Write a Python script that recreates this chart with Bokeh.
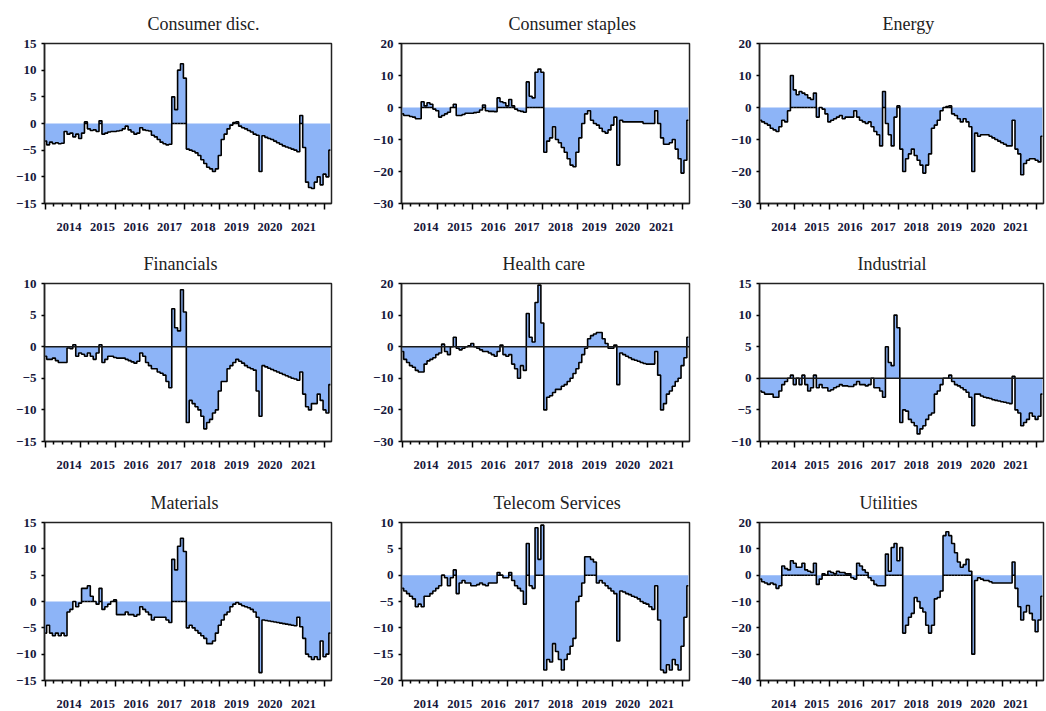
import numpy as np
from bokeh.plotting import figure
from bokeh.layouts import column, row
from bokeh.models import (FixedTicker, LinearAxis, Range1d, Span,
                          CustomJSTickFormatter, ColumnDataSource)
from bokeh.embed import file_html
from bokeh.resources import INLINE

# ---------------- data (monthly, Jan 2014 .. Mar 2022) ----------------
START_YEAR = 2014
YEAR_LABELS = [2014, 2015, 2016, 2017, 2018, 2019, 2020, 2021]

TITLES = ["Consumer disc.", "Consumer staples", "Energy",
          "Financials", "Health care", "Industrial",
          "Materials", "Telecom Services", "Utilities"]

CONSUMER_DISC = [
    -3.3, -4.0, -3.5, -3.8, -3.6, -3.8, -3.7, -1.5, -2.0, -1.8,
    -2.5, -2.0, -2.8, -1.8, 0.3, -1.0, -1.3, -1.2, -1.5, 0.5,
    -2.0, -1.8, -1.6, -1.5, -1.5, -1.4, -1.3, -1.0, -0.5, -1.2,
    -1.6, -2.0, -1.8, -0.8, -1.2, -1.3, -1.4, -2.2, -2.5, -3.0,
    -3.5, -3.8, -4.0, -3.9, 5.0, 2.6, 10.0, 11.2, 8.5, -4.8,
    -5.0, -5.2, -5.5, -6.0, -6.8, -7.5, -8.2, -8.5, -9.0, -8.5,
    -6.0, -3.0, -2.0, -1.0, -0.3, 0.2, 0.3, -0.5, -0.8, -1.0,
    -1.3, -1.6, -2.0, -2.2, -9.0, -2.3, -2.6, -2.8, -3.0, -3.3,
    -3.6, -3.9, -4.2, -4.4, -4.6, -4.8, -5.0, -5.3, 1.5, -4.5,
    -11.0, -12.0, -12.2, -11.0, -10.0, -11.5, -9.5, -10.0, -5.0]

CONSUMER_STAPLES = [
    -2.0, -2.5, -2.5, -2.8, -3.0, -3.5, -3.5, 1.8, 0.5, 1.5,
    1.0, -0.5, -1.0, -3.0, -2.5, -2.0, -1.5, 0.0, 1.0, -2.5,
    -2.5, -2.2, -1.8, -1.8, -1.8, -1.6, -1.5, -0.8, 0.8, -1.0,
    -1.2, -1.2, -1.3, 3.0, 1.8, 1.5, 0.5, 2.5, 0.5, -0.5,
    -1.0, -1.2, -1.5, 8.0, 3.5, 3.0, 11.0, 12.0, 11.0, -14.0,
    -10.5, -9.5, -6.0, -10.0, -11.0, -12.5, -14.0, -16.0, -18.0, -18.5,
    -14.0, -9.5, -5.0, -2.0, -1.0, -4.0, -5.0, -5.5, -6.5, -7.5,
    -8.0, -7.0, -5.5, -3.0, -18.0, -4.0, -4.5, -4.5, -4.5, -4.5,
    -4.5, -4.5, -4.5, -5.0, -5.0, -5.0, -5.0, -1.0, -5.0, -9.5,
    -11.5, -11.5, -11.0, -10.0, -13.0, -16.0, -20.5, -16.5, -4.0]

ENERGY = [
    -4.0, -4.5, -5.0, -5.5, -6.5, -7.0, -7.5, -6.0, -4.0, -4.5,
    -1.0, 10.0, 5.5, 4.0, 5.0, 4.5, 4.0, 3.0, 2.5, 4.5,
    -3.0, 0.0, -0.5, -2.0, -4.5, -4.0, -3.5, -3.0, -2.5, -3.5,
    -3.0, -3.0, -3.0, -1.0, -3.0, -4.0, -4.5, -5.0, -4.5, -6.0,
    -7.5, -8.5, -12.0, 5.0, -5.0, -8.5, -12.0, -3.0, 0.5, -13.0,
    -20.0, -16.0, -14.5, -13.0, -15.0, -16.5, -18.0, -20.5, -18.0, -14.5,
    -6.5, -5.5, -4.0, -1.0, 0.0, 0.3, 0.5, -2.0, -2.5, -3.5,
    -4.5, -3.5, -4.5, -6.0, -20.0, -8.0, -9.0, -8.5, -8.5, -8.5,
    -9.0, -9.5, -10.0, -10.5, -11.0, -11.5, -12.0, -12.0, -4.0, -13.0,
    -14.5, -21.0, -17.5, -16.5, -16.0, -16.0, -16.5, -17.0, -9.0]

FINANCIALS = [
    -1.5, -2.0, -2.0, -1.8, -2.2, -2.5, -2.5, -2.5, -0.2, -0.3,
    0.3, -1.5, -1.0, -1.2, -1.5, -1.0, -1.5, -2.0, -1.0, 0.3,
    -2.5, -2.0, -1.5, -1.5, -1.7, -1.8, -1.8, -1.8, -2.0, -2.2,
    -2.4, -2.6, -2.3, -1.0, -1.5, -2.5, -3.0, -3.5, -3.5, -4.0,
    -4.2, -4.5, -5.5, -6.5, 6.0, 3.0, 2.5, 9.0, 5.5, -12.0,
    -8.5, -9.0, -9.5, -10.0, -11.0, -13.0, -12.0, -11.5, -10.5, -10.0,
    -7.0, -5.5, -5.5, -3.5, -3.0, -2.5, -2.0, -2.3, -2.6, -3.0,
    -3.3, -3.5, -3.7, -7.0, -11.0, -3.0, -3.2, -3.4, -3.6, -3.8,
    -4.0, -4.2, -4.4, -4.6, -4.8, -5.0, -5.1, -5.3, -4.0, -7.5,
    -9.5, -10.0, -9.0, -9.0, -7.5, -8.5, -10.0, -10.5, -6.0]

HEALTH_CARE = [
    -1.5, -4.0, -5.0, -6.0, -6.5, -7.5, -8.0, -8.0, -5.5, -4.5,
    -4.0, -3.5, -2.5, -2.0, 0.8, -1.5, -2.5, 0.0, 3.0, -0.5,
    -1.0, -0.5, 0.0, 0.3, 1.0, 0.0, -0.5, -1.0, -1.5, -1.5,
    -2.0, -2.5, -3.0, -1.5, 0.5, -2.5, -3.0, -2.5, -5.5, -7.0,
    -10.0, -6.0, -7.5, 10.5, 3.0, 1.5, 14.0, 19.5, 7.5, -20.0,
    -16.0, -15.5, -14.5, -13.5, -13.5, -12.5, -12.0, -11.0, -10.0, -8.5,
    -7.0, -5.0, -2.5, -0.5, 2.5, 3.5, 4.0, 4.5, 4.5, 2.5,
    1.0, -0.5, -0.5, 0.5, -12.0, -2.0, -2.5, -3.0, -3.5, -4.0,
    -4.3, -4.6, -5.0, -5.3, -5.5, -5.5, -5.5, -1.5, -9.0, -20.0,
    -18.0, -15.0, -14.0, -12.5, -11.0, -10.0, -6.0, -3.5, 3.0]

INDUSTRIAL = [
    -2.0, -2.2, -2.5, -2.5, -2.5, -3.0, -3.0, -2.0, -1.0, -0.5,
    0.0, 0.5, -1.0, 0.0, -1.0, 0.5, -1.0, -2.0, -1.5, 0.5,
    -1.5, -1.0, -1.5, -1.5, -2.0, -1.8, -1.5, -1.3, -1.0, -1.2,
    -1.2, -1.3, -1.3, -1.0, -0.5, -1.0, -1.0, -1.2, -1.0, 0.0,
    -1.5, -1.5, -2.0, -3.0, 5.0, 2.5, 2.0, 10.0, 8.0, -7.0,
    -5.0, -5.2, -6.5, -7.0, -7.5, -8.8, -8.0, -7.5, -6.5, -5.8,
    -5.5, -2.5, -2.0, -1.0, 0.0, 0.0, 0.5, -0.5, -1.0, -1.2,
    -1.5, -1.8, -2.2, -3.0, -7.5, -2.5, -2.5, -2.8, -3.0, -3.1,
    -3.2, -3.4, -3.5, -3.6, -3.7, -3.8, -3.9, -4.0, 0.3, -5.0,
    -5.5, -7.5, -7.0, -6.5, -5.5, -6.0, -6.5, -6.0, -2.5]

MATERIALS = [
    -6.0, -4.5, -6.0, -6.5, -6.0, -6.5, -6.0, -6.5, -2.0, -1.5,
    0.0, -1.0, -0.3, 2.5, 2.5, 3.0, 1.0, 0.0, -0.5, 2.5,
    -1.5, -1.0, -0.5, 0.0, 0.3, -2.5, -2.5, -2.5, -2.0, -2.5,
    -2.5, -2.8, -2.5, -1.0, -1.5, -2.0, -2.5, -3.5, -3.0, -3.0,
    -3.0, -3.0, -3.5, -4.0, 8.0, 6.0, 10.5, 12.0, 9.5, -5.0,
    -4.5, -5.0, -5.5, -6.0, -6.5, -7.0, -8.0, -8.0, -7.5, -6.0,
    -4.5, -3.5, -2.5, -2.0, -1.0, -0.5, -0.2, -0.5, -0.8, -1.0,
    -1.2, -1.5, -2.0, -3.0, -13.5, -3.5, -3.6, -3.7, -3.8, -3.9,
    -4.0, -4.1, -4.2, -4.3, -4.4, -4.5, -4.6, -3.0, -4.8, -7.0,
    -10.0, -10.5, -11.0, -10.5, -11.0, -7.5, -10.5, -10.0, -6.0]

TELECOM = [
    -2.5, -3.0, -3.5, -4.0, -4.5, -6.0, -5.5, -6.0, -4.0, -4.0,
    -3.5, -3.0, -2.5, -2.0, 0.0, -0.5, -2.0, -0.5, 1.0, -3.5,
    -1.5, -1.0, -1.5, -1.5, -2.0, -2.0, -1.8, -1.5, -1.8, -2.0,
    -1.5, -1.5, -1.5, 0.5, 0.0, -0.5, -0.5, 0.5, -1.0, -2.0,
    -2.5, -3.0, -5.5, 6.0, -2.0, -2.5, 9.0, 3.0, 9.5, -18.0,
    -16.0, -16.5, -13.0, -14.5, -16.0, -18.0, -16.0, -15.0, -13.5, -12.0,
    -5.0, -4.0, -1.5, 3.5, 3.5, 3.0, 2.5, -1.5, -1.0, -1.5,
    -2.0, -2.5, -3.0, -3.5, -12.5, -3.0, -3.2, -3.5, -3.7, -4.0,
    -4.2, -4.5, -5.0, -5.3, -5.5, -6.0, -6.5, -2.0, -8.5, -18.0,
    -18.5, -17.0, -18.0, -16.0, -17.0, -18.0, -13.5, -8.0, -2.0]

UTILITIES = [
    -1.5, -2.5, -3.0, -3.5, -3.0, -3.5, -5.0, -4.0, 3.5, 2.5,
    2.0, 5.5, 4.5, 3.0, 3.0, 4.5, 2.0, 1.5, 1.0, 4.5,
    -3.5, -1.5, 0.5, 0.0, 1.5, 1.0, 0.5, 1.5, 1.0, 1.0,
    0.5, 0.5, -1.0, -1.5, 4.5, 3.5, 2.0, 1.0, -1.0, -2.0,
    -3.5, -4.0, -4.0, -4.0, 8.0, 1.5, 10.5, 12.0, 5.5, 10.5,
    -22.0, -19.0, -16.0, -14.5, -8.5, -10.0, -12.5, -14.0, -19.0, -22.0,
    -19.0, -9.0, -8.5, -6.0, 15.0, 16.5, 15.0, 12.0, 8.5, 5.0,
    3.0, 4.0, 6.0, 1.5, -30.0, -2.0, -1.0, -1.5, -2.0, -2.0,
    -2.5, -3.0, -3.0, -3.0, -3.0, -3.0, -3.0, -3.0, 5.0, -5.0,
    -12.0, -17.0, -14.0, -11.5, -14.5, -17.0, -21.5, -17.0, -8.0]

SERIES = [CONSUMER_DISC, CONSUMER_STAPLES, ENERGY,
          FINANCIALS, HEALTH_CARE, INDUSTRIAL,
          MATERIALS, TELECOM, UTILITIES]

# y-axis limits and tick step for each panel
Y_LOW = [-15, -30, -30, -15, -30, -10, -15, -20, -40]
Y_HIGH = [15, 20, 20, 10, 20, 15, 15, 10, 20]
Y_STEP = [5, 10, 10, 5, 10, 5, 5, 5, 10]
FULL_BASELINE = [False, False, False, True, True, True, False, False, False]

# ---------------- styling / layout ----------------
FONT = "Liberation Serif"
FILL = "#8db4f7"
LABEL_COLOR = "#16163a"
COL_W = [351, 358, 336]
COL_LEFT = [44, 50, 50]
COL_RIGHT = [20, 20, 2]
ROW_H = [241, 239, 230]
ROW_TOP = [43, 41, 39]
ROW_FRAME = [160, 159, 161]
# distance (px) from the frame's left edge to the title's left edge
TITLE_LEFT = [103, 107, 123, 99, 101, 98, 106, 92, 100]

YEAR_TICKS = [float(y) for y in range(2014, 2023)]
QUARTER_TICKS = [y + q / 4 for y in range(2014, 2022) for q in (1, 2, 3)]
LABEL_POS = [2014.68 + k * 0.96 for k in range(len(YEAR_LABELS))]


def make_panel(idx):
    ci, ri = idx % 3, idx // 3
    vals = np.array(SERIES[idx], dtype=float)
    assert len(vals) == 99, (TITLES[idx], len(vals))
    xs = START_YEAR + np.arange(len(vals)) / 12.0
    h = ROW_H[ri]
    p = figure(width=COL_W[ci], height=h, output_backend="svg",
               toolbar_location=None,
               x_range=Range1d(2013.98, 2022.2),
               y_range=Range1d(Y_LOW[idx], Y_HIGH[idx]),
               min_border_left=COL_LEFT[ci], min_border_right=COL_RIGHT[ci],
               min_border_top=ROW_TOP[ri],
               min_border_bottom=h - ROW_TOP[ri] - ROW_FRAME[ri],
               title=TITLES[idx])
    p.background_fill_color = "white"
    p.border_fill_color = "white"
    p.grid.visible = False
    p.outline_line_color = "#222222"
    p.outline_line_width = 1.5

    p.title.text_font = FONT
    p.title.text_font_size = "18px"
    p.title.text_font_style = "normal"
    p.title.text_color = "#222222"
    p.title.align = "left"
    p.title.offset = TITLE_LEFT[idx]
    p.title.standoff = 20

    src = ColumnDataSource(dict(x=xs, y=vals, zero=np.zeros_like(vals)))
    p.varea_step(x="x", y1="zero", y2="y", step_mode="center", source=src,
                 fill_color=FILL, fill_alpha=1.0)
    if FULL_BASELINE[idx]:
        p.add_layout(Span(location=0, dimension="width",
                          line_color="#1a1a1a", line_width=1.5))
    else:
        pos = vals > 0
        half = 1 / 24.0
        p.segment(x0=xs[pos] - half, y0=0, x1=xs[pos] + half, y1=0,
                  line_color="black", line_width=1.5)
    p.step(x="x", y="y", mode="center", source=src,
           line_color="black", line_width=1.6)

    # tick axis (no labels)
    xa = p.xaxis[0]
    xa.ticker = FixedTicker(ticks=YEAR_TICKS, minor_ticks=QUARTER_TICKS)
    xa.formatter = CustomJSTickFormatter(code="return ''")
    xa.major_label_text_font_size = "0px"
    xa.major_label_standoff = 0
    xa.major_tick_in = 0
    xa.major_tick_out = 6
    xa.minor_tick_in = 0
    xa.minor_tick_out = 3
    xa.major_tick_line_width = 1.5
    xa.minor_tick_line_width = 1.5
    xa.axis_line_color = "#222222"
    xa.axis_line_width = 1.5

    # label axis (year labels between the year ticks)
    lab = LinearAxis(ticker=FixedTicker(ticks=LABEL_POS),
                     formatter=CustomJSTickFormatter(
                         code="return Math.floor(tick).toString()"),
                     axis_line_color=None, major_tick_line_color=None,
                     minor_tick_line_color=None, major_label_standoff=7)
    lab.major_label_text_font = FONT
    lab.major_label_text_font_size = "12.5px"
    lab.major_label_text_font_style = "bold"
    lab.major_label_text_color = LABEL_COLOR
    p.add_layout(lab, "below")

    ya = p.yaxis[0]
    ya.ticker = FixedTicker(ticks=list(range(Y_LOW[idx], Y_HIGH[idx] + 1,
                                             Y_STEP[idx])))
    ya.major_tick_in = 0
    ya.major_tick_out = 3
    ya.minor_tick_line_color = None
    ya.major_tick_line_width = 1.5
    ya.axis_line_color = "#222222"
    ya.axis_line_width = 1.5
    ya.major_label_standoff = 5
    ya.major_label_text_font = FONT
    ya.major_label_text_font_size = "13px"
    ya.major_label_text_font_style = "bold"
    ya.major_label_text_color = LABEL_COLOR
    return p


panels = [make_panel(i) for i in range(9)]
layout = column(row(*panels[0:3]), row(*panels[3:6]), row(*panels[6:9]))

with open("out.html", "w") as f:
    f.write(file_html(layout, INLINE, title="Sector charts"))
